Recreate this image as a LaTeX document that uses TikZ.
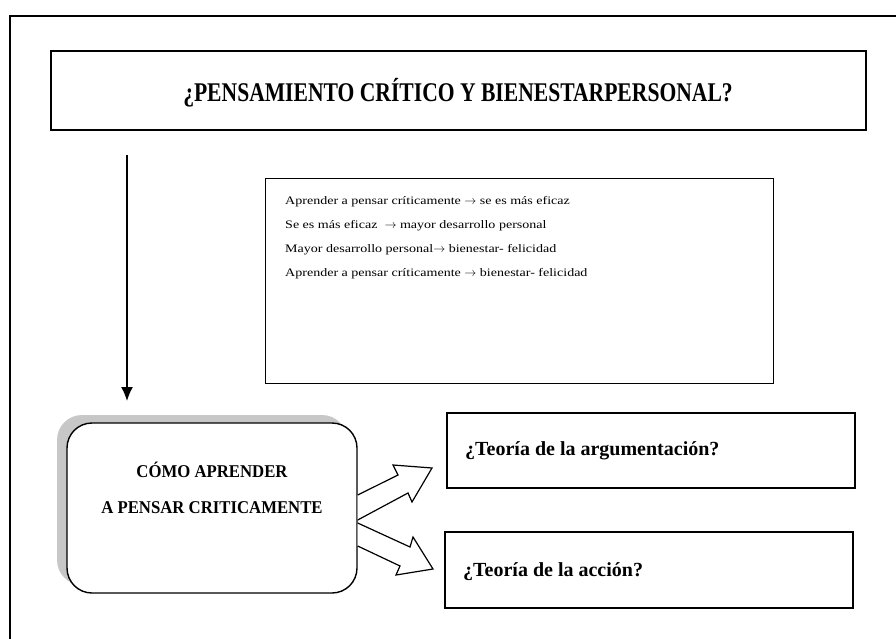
\documentclass[tikz,border=0pt]{standalone}
\usepackage{fontspec}
\setmainfont{Liberation Serif}
\newfontfamily\titlefont[FakeStretch=0.8]{Liberation Serif}
\newfontfamily\capsfont[FakeStretch=0.93]{Liberation Serif}
\newfontfamily\bodyfont[FakeStretch=1.22]{Liberation Serif}
\usetikzlibrary{arrows.meta}
\begin{document}
\begin{tikzpicture}[x=1pt,y=-1pt,
  box/.style={draw=black, line width=1.4pt, fill=white, inner sep=0pt},
  blockarrow/.style={draw=black, line width=1.2pt, fill=white, line join=miter},
  lbl/.style={font=\bodyfont\fontsize{11.5}{13}\selectfont, anchor=west, inner sep=0pt},
  capslbl/.style={font=\capsfont\bfseries\fontsize{18}{20}\selectfont, inner sep=0pt},
  teolbl/.style={font=\bfseries\fontsize{20}{22}\selectfont, anchor=west, inner sep=0pt}]
\useasboundingbox (0,0) rectangle (896,639);
% outer frame
\draw[line width=1.4pt] (10,639) -- (10,16) -- (896,16);
% title
\node[box, minimum width=815pt, minimum height=79pt] (title) at (458.5,90.5) {};
\node[font=\titlefont\bfseries\fontsize{27}{30}\selectfont, inner sep=0pt] (titletext) at (458,93)
  {¿PENSAMIENTO CRÍTICO Y BIENESTARPERSONAL?};
% text box
\node[draw=black, line width=1pt, minimum width=508pt, minimum height=204pt] (tb) at (519,281) {};
\node[lbl] (l1) at (285,202) {Aprender a pensar críticamente $\rightarrow$ se es más eficaz};
\node[lbl] (l2) at (285,226) {Se es más eficaz \ $\rightarrow$ mayor desarrollo personal};
\node[lbl] (l3) at (285,250) {Mayor desarrollo personal$\rightarrow$ bienestar- felicidad};
\node[lbl] (l4) at (285,274) {Aprender a pensar críticamente $\rightarrow$ bienestar- felicidad};
% down arrow
\coordinate (a0) at (127,155);
\coordinate (a1) at (127,401);
\draw[line width=1.4pt, -{Latex[length=14pt,width=12pt]}] (a0) -- (a1);
% shadow + rounded box
\fill[black!22, rounded corners=25pt] (57,415) rectangle (347,585);
\node[box, rounded corners=25pt, minimum width=290pt, minimum height=170pt] (how) at (212,508) {};
\node[capslbl] (h1) at (212,470) {CÓMO APRENDER};
\node[capslbl] (h2) at (212,508) {A PENSAR CRITICAMENTE};
% right boxes
\node[box, minimum width=408pt, minimum height=75pt] (arg) at (651,450.5) {};
\node[teolbl] (argtext) at (465,451) {¿Teoría de la argumentación?};
\node[box, minimum width=408pt, minimum height=76pt] (act) at (649,570) {};
\node[teolbl] (acttext) at (463,572) {¿Teoría de la acción?};
% block arrows
\draw[blockarrow] (how.east |- 0,495) -- (398,475) -- (393,465) -- (432,468)
  -- (412,502) -- (408,493) -- (how.east |- 0,520);
\draw[blockarrow] (how.east |- 0,523) -- (410,547) -- (413,537) -- (433,569)
  -- (396,575) -- (400,566) -- (how.east |- 0,546);
\end{tikzpicture}
\end{document}
